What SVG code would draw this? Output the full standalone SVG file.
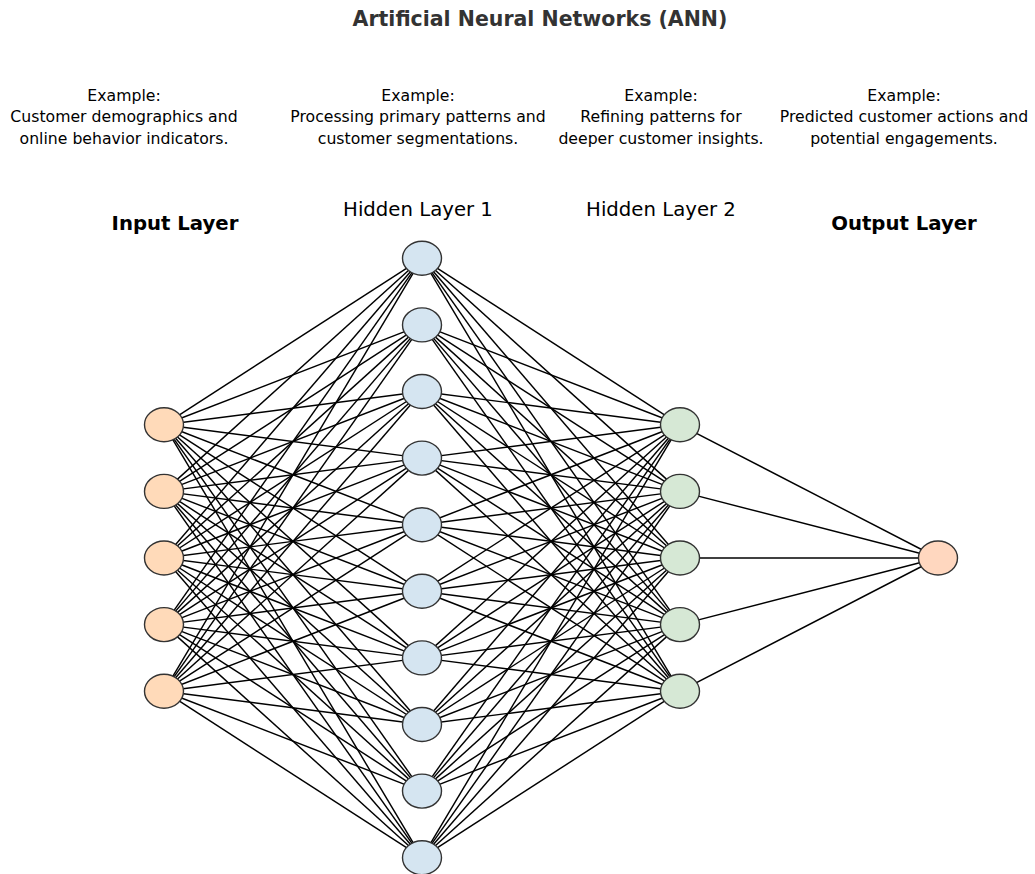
<svg xmlns="http://www.w3.org/2000/svg" width="1035" height="874" viewBox="0 0 1035 874">
  <style>
    .title { font-family: "DejaVu Sans", sans-serif; font-weight: bold; font-size: 20.5px; fill: #333333; text-anchor: middle; }
    .note { font-family: "DejaVu Sans", sans-serif; font-size: 15.7px; fill: #000000; text-anchor: middle; }
    .layer { font-family: "DejaVu Sans", sans-serif; font-size: 19.7px; fill: #000000; text-anchor: middle; }
    .layer.bold { font-weight: bold; }
    .edges line { stroke: #000000; stroke-width: 1.45; }
    .neuron { stroke: #333333; stroke-width: 1.4; }
    .in { fill: #ffdab9; }
    .h1 { fill: #d5e5f1; }
    .h2 { fill: #d6e8d5; }
    .out { fill: #ffd7bf; }
  </style>
  <rect width="1035" height="874" fill="#ffffff"/>

  <text class="title" x="540" y="26">Artificial Neural Networks (ANN)</text>

  <g id="examples">
    <text class="note" x="124" y="101">Example:<tspan x="124" dy="21.3">Customer demographics and</tspan><tspan x="124" dy="21.3">online behavior indicators.</tspan></text>
    <text class="note" x="418" y="101">Example:<tspan x="418" dy="21.3">Processing primary patterns and</tspan><tspan x="418" dy="21.3">customer segmentations.</tspan></text>
    <text class="note" x="661" y="101">Example:<tspan x="661" dy="21.3">Refining patterns for</tspan><tspan x="661" dy="21.3">deeper customer insights.</tspan></text>
    <text class="note" x="904" y="101">Example:<tspan x="904" dy="21.3">Predicted customer actions and</tspan><tspan x="904" dy="21.3">potential engagements.</tspan></text>
  </g>

  <g id="layer-titles">
    <text class="layer bold" x="175" y="230">Input Layer</text>
    <text class="layer" x="418" y="216">Hidden Layer 1</text>
    <text class="layer" x="661" y="216">Hidden Layer 2</text>
    <text class="layer bold" x="904" y="230">Output Layer</text>
  </g>

  <g id="connectors" class="edges">
    <!-- input -> hidden 1 -->
    <line x1="164" y1="424.8" x2="422" y2="258.3"/><line x1="164" y1="424.8" x2="422" y2="324.9"/><line x1="164" y1="424.8" x2="422" y2="391.5"/><line x1="164" y1="424.8" x2="422" y2="458.1"/><line x1="164" y1="424.8" x2="422" y2="524.7"/><line x1="164" y1="424.8" x2="422" y2="591.3"/><line x1="164" y1="424.8" x2="422" y2="657.9"/><line x1="164" y1="424.8" x2="422" y2="724.5"/><line x1="164" y1="424.8" x2="422" y2="791.1"/><line x1="164" y1="424.8" x2="422" y2="857.7"/>
    <line x1="164" y1="491.4" x2="422" y2="258.3"/><line x1="164" y1="491.4" x2="422" y2="324.9"/><line x1="164" y1="491.4" x2="422" y2="391.5"/><line x1="164" y1="491.4" x2="422" y2="458.1"/><line x1="164" y1="491.4" x2="422" y2="524.7"/><line x1="164" y1="491.4" x2="422" y2="591.3"/><line x1="164" y1="491.4" x2="422" y2="657.9"/><line x1="164" y1="491.4" x2="422" y2="724.5"/><line x1="164" y1="491.4" x2="422" y2="791.1"/><line x1="164" y1="491.4" x2="422" y2="857.7"/>
    <line x1="164" y1="558" x2="422" y2="258.3"/><line x1="164" y1="558" x2="422" y2="324.9"/><line x1="164" y1="558" x2="422" y2="391.5"/><line x1="164" y1="558" x2="422" y2="458.1"/><line x1="164" y1="558" x2="422" y2="524.7"/><line x1="164" y1="558" x2="422" y2="591.3"/><line x1="164" y1="558" x2="422" y2="657.9"/><line x1="164" y1="558" x2="422" y2="724.5"/><line x1="164" y1="558" x2="422" y2="791.1"/><line x1="164" y1="558" x2="422" y2="857.7"/>
    <line x1="164" y1="624.6" x2="422" y2="258.3"/><line x1="164" y1="624.6" x2="422" y2="324.9"/><line x1="164" y1="624.6" x2="422" y2="391.5"/><line x1="164" y1="624.6" x2="422" y2="458.1"/><line x1="164" y1="624.6" x2="422" y2="524.7"/><line x1="164" y1="624.6" x2="422" y2="591.3"/><line x1="164" y1="624.6" x2="422" y2="657.9"/><line x1="164" y1="624.6" x2="422" y2="724.5"/><line x1="164" y1="624.6" x2="422" y2="791.1"/><line x1="164" y1="624.6" x2="422" y2="857.7"/>
    <line x1="164" y1="691.2" x2="422" y2="258.3"/><line x1="164" y1="691.2" x2="422" y2="324.9"/><line x1="164" y1="691.2" x2="422" y2="391.5"/><line x1="164" y1="691.2" x2="422" y2="458.1"/><line x1="164" y1="691.2" x2="422" y2="524.7"/><line x1="164" y1="691.2" x2="422" y2="591.3"/><line x1="164" y1="691.2" x2="422" y2="657.9"/><line x1="164" y1="691.2" x2="422" y2="724.5"/><line x1="164" y1="691.2" x2="422" y2="791.1"/><line x1="164" y1="691.2" x2="422" y2="857.7"/>
    <!-- hidden 1 -> hidden 2 -->
    <line x1="422" y1="258.3" x2="680" y2="424.8"/><line x1="422" y1="258.3" x2="680" y2="491.4"/><line x1="422" y1="258.3" x2="680" y2="558"/><line x1="422" y1="258.3" x2="680" y2="624.6"/><line x1="422" y1="258.3" x2="680" y2="691.2"/>
    <line x1="422" y1="324.9" x2="680" y2="424.8"/><line x1="422" y1="324.9" x2="680" y2="491.4"/><line x1="422" y1="324.9" x2="680" y2="558"/><line x1="422" y1="324.9" x2="680" y2="624.6"/><line x1="422" y1="324.9" x2="680" y2="691.2"/>
    <line x1="422" y1="391.5" x2="680" y2="424.8"/><line x1="422" y1="391.5" x2="680" y2="491.4"/><line x1="422" y1="391.5" x2="680" y2="558"/><line x1="422" y1="391.5" x2="680" y2="624.6"/><line x1="422" y1="391.5" x2="680" y2="691.2"/>
    <line x1="422" y1="458.1" x2="680" y2="424.8"/><line x1="422" y1="458.1" x2="680" y2="491.4"/><line x1="422" y1="458.1" x2="680" y2="558"/><line x1="422" y1="458.1" x2="680" y2="624.6"/><line x1="422" y1="458.1" x2="680" y2="691.2"/>
    <line x1="422" y1="524.7" x2="680" y2="424.8"/><line x1="422" y1="524.7" x2="680" y2="491.4"/><line x1="422" y1="524.7" x2="680" y2="558"/><line x1="422" y1="524.7" x2="680" y2="624.6"/><line x1="422" y1="524.7" x2="680" y2="691.2"/>
    <line x1="422" y1="591.3" x2="680" y2="424.8"/><line x1="422" y1="591.3" x2="680" y2="491.4"/><line x1="422" y1="591.3" x2="680" y2="558"/><line x1="422" y1="591.3" x2="680" y2="624.6"/><line x1="422" y1="591.3" x2="680" y2="691.2"/>
    <line x1="422" y1="657.9" x2="680" y2="424.8"/><line x1="422" y1="657.9" x2="680" y2="491.4"/><line x1="422" y1="657.9" x2="680" y2="558"/><line x1="422" y1="657.9" x2="680" y2="624.6"/><line x1="422" y1="657.9" x2="680" y2="691.2"/>
    <line x1="422" y1="724.5" x2="680" y2="424.8"/><line x1="422" y1="724.5" x2="680" y2="491.4"/><line x1="422" y1="724.5" x2="680" y2="558"/><line x1="422" y1="724.5" x2="680" y2="624.6"/><line x1="422" y1="724.5" x2="680" y2="691.2"/>
    <line x1="422" y1="791.1" x2="680" y2="424.8"/><line x1="422" y1="791.1" x2="680" y2="491.4"/><line x1="422" y1="791.1" x2="680" y2="558"/><line x1="422" y1="791.1" x2="680" y2="624.6"/><line x1="422" y1="791.1" x2="680" y2="691.2"/>
    <line x1="422" y1="857.7" x2="680" y2="424.8"/><line x1="422" y1="857.7" x2="680" y2="491.4"/><line x1="422" y1="857.7" x2="680" y2="558"/><line x1="422" y1="857.7" x2="680" y2="624.6"/><line x1="422" y1="857.7" x2="680" y2="691.2"/>
    <!-- hidden 2 -> output -->
    <line x1="680" y1="424.8" x2="938" y2="558"/><line x1="680" y1="491.4" x2="938" y2="558"/><line x1="680" y1="558" x2="938" y2="558"/><line x1="680" y1="624.6" x2="938" y2="558"/><line x1="680" y1="691.2" x2="938" y2="558"/>
  </g>

  <g id="input-layer">
    <ellipse id="in-1" class="neuron in" cx="164" cy="424.8" rx="19.5" ry="17"/>
    <ellipse id="in-2" class="neuron in" cx="164" cy="491.4" rx="19.5" ry="17"/>
    <ellipse id="in-3" class="neuron in" cx="164" cy="558" rx="19.5" ry="17"/>
    <ellipse id="in-4" class="neuron in" cx="164" cy="624.6" rx="19.5" ry="17"/>
    <ellipse id="in-5" class="neuron in" cx="164" cy="691.2" rx="19.5" ry="17"/>
  </g>

  <g id="hidden-layer-1">
    <ellipse id="h1-1" class="neuron h1" cx="422" cy="258.3" rx="19.5" ry="17"/>
    <ellipse id="h1-2" class="neuron h1" cx="422" cy="324.9" rx="19.5" ry="17"/>
    <ellipse id="h1-3" class="neuron h1" cx="422" cy="391.5" rx="19.5" ry="17"/>
    <ellipse id="h1-4" class="neuron h1" cx="422" cy="458.1" rx="19.5" ry="17"/>
    <ellipse id="h1-5" class="neuron h1" cx="422" cy="524.7" rx="19.5" ry="17"/>
    <ellipse id="h1-6" class="neuron h1" cx="422" cy="591.3" rx="19.5" ry="17"/>
    <ellipse id="h1-7" class="neuron h1" cx="422" cy="657.9" rx="19.5" ry="17"/>
    <ellipse id="h1-8" class="neuron h1" cx="422" cy="724.5" rx="19.5" ry="17"/>
    <ellipse id="h1-9" class="neuron h1" cx="422" cy="791.1" rx="19.5" ry="17"/>
    <ellipse id="h1-10" class="neuron h1" cx="422" cy="857.7" rx="19.5" ry="17"/>
  </g>

  <g id="hidden-layer-2">
    <ellipse id="h2-1" class="neuron h2" cx="680" cy="424.8" rx="19.5" ry="17"/>
    <ellipse id="h2-2" class="neuron h2" cx="680" cy="491.4" rx="19.5" ry="17"/>
    <ellipse id="h2-3" class="neuron h2" cx="680" cy="558" rx="19.5" ry="17"/>
    <ellipse id="h2-4" class="neuron h2" cx="680" cy="624.6" rx="19.5" ry="17"/>
    <ellipse id="h2-5" class="neuron h2" cx="680" cy="691.2" rx="19.5" ry="17"/>
  </g>

  <g id="output-layer">
    <ellipse id="out-1" class="neuron out" cx="938" cy="558" rx="19.5" ry="17"/>
  </g>
</svg>
